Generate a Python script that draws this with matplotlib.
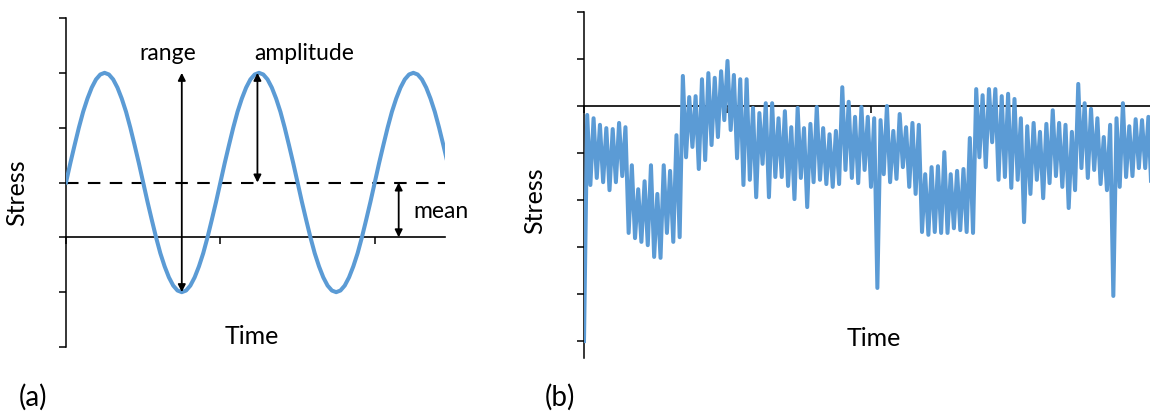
import matplotlib
matplotlib.use("Agg")
import matplotlib.pyplot as plt
import numpy as np

plt.rcParams['font.family'] = ['Lato', 'DejaVu Sans']

# (a) constant amplitude sine, sampled every 1/36 of a cycle
stress_a = [1.00, 1.35, 1.68, 2.00, 2.29, 2.53, 2.73, 2.88, 2.97, 3.00, 2.97, 2.88,
            2.73, 2.53, 2.29, 2.00, 1.68, 1.35, 1.00, 0.65, 0.32, 0.00, -0.29, -0.53,
            -0.73, -0.88, -0.97, -1.00, -0.97, -0.88, -0.73, -0.53, -0.29, 0.00, 0.32, 0.65,
            1.00, 1.35, 1.68, 2.00, 2.29, 2.53, 2.73, 2.88, 2.97, 3.00, 2.97, 2.88,
            2.73, 2.53, 2.29, 2.00, 1.68, 1.35, 1.00, 0.65, 0.32, 0.00, -0.29, -0.53,
            -0.73, -0.88, -0.97, -1.00, -0.97, -0.88, -0.73, -0.53, -0.29, 0.00, 0.32, 0.65,
            1.00, 1.35, 1.68, 2.00, 2.29, 2.53, 2.73, 2.88, 2.97, 3.00, 2.97, 2.88,
            2.73, 2.53, 2.29, 2.00, 1.68, 1.35]
samples_per_cycle = 36
mean_a = 1.0
peak_a = 3.0
trough_a = -1.0

# (b) variable amplitude history, peaks and troughs in order
stress_b = [-5.0,
            -0.19, -1.68, -0.26, -1.53, -0.40, -1.62, -0.47, -1.79, -0.49, -1.62, -0.36, -1.49, -0.45,
            -2.70, -1.26, -2.81, -1.77, -2.89, -1.60, -2.96, -1.26, -3.21, -1.87, -3.23, -1.26,
            -2.70, -1.38, -2.89, -0.62, -2.79, 0.64,
            -1.09, 0.19, -0.87, 0.21, -1.34, 0.57, -1.15, 0.70, -0.83, 0.60, -0.66, 0.74, -0.30,
            0.96, -0.51, 0.66, -1.11, 0.57, -1.68, 0.57, -1.57, -0.04, -1.94, -0.15, -1.23, 0.06,
            -1.94, 0.06, -1.51,
            -0.26, -1.51, -0.11, -1.70, -0.45, -1.98, -0.04, -1.53, -0.47, -2.15, -0.38, -1.62,
            -0.02, -1.57, -0.47, -1.66, -0.60, -1.72, -0.53, -1.66, 0.40, -1.36, 0.09, -1.53,
            -0.23, -1.64, -0.02, -1.36, -0.23, -1.72,
            -0.26, -3.87, -0.30, -1.45, 0.00, -1.62, -0.53, -1.55, -0.17, -1.30, -0.45, -1.72,
            -0.36, -1.87, -0.40,
            -2.68, -1.45, -2.74, -1.30, -2.68, -1.28, -2.70, -0.98, -2.70, -1.45, -2.60, -1.38,
            -2.64, -1.34, -2.68,
            -0.68, -2.70, 0.36, -1.09, 0.23, -1.30, 0.36, -0.77, 0.36, -1.57, 0.21, -1.51, 0.26,
            -1.74, 0.15, -1.57, -0.26, -2.47, -0.43, -1.87, -0.36, -1.57, -0.55, -1.96, -0.38,
            -1.64, -0.09, -1.49, -0.36, -1.72,
            -0.40, -2.17, -0.55, -1.79, 0.47, -1.32, 0.06, -1.53, -0.06, -1.36, -0.26, -1.66,
            -0.66, -1.79, -0.40, -4.04, -0.26, -1.72, 0.06, -1.51, -0.43, -1.49, -0.28, -1.32,
            -0.30, -1.32, -0.23, -1.90]

blue = '#5B9BD5'
W, H = 1150, 417

fig = plt.figure(figsize=(W / 100, H / 100), dpi=100)


def setup_axes(ax, xticks, yticks):
    for s in ['top', 'right']:
        ax.spines[s].set_visible(False)
    ax.spines['left'].set_position(('data', 0))
    ax.spines['bottom'].set_position(('data', 0))
    ax.spines['left'].set_linewidth(1.1)
    ax.spines['bottom'].set_linewidth(1.2)
    ax.set_xticks(xticks)
    ax.set_yticks(yticks)
    ax.tick_params(direction='out', length=5, width=1.1, labelleft=False, labelbottom=False)
    ax.patch.set_visible(False)


# ---- (a)
ax1 = fig.add_axes([66 / W, (H - 347) / H, 379 / W, 329 / H])
t_a = np.arange(len(stress_a)) / samples_per_cycle
ax1.plot(t_a, stress_a, color=blue, lw=2.9, zorder=3, solid_joinstyle='round')
ax1.axhline(mean_a, color='black', lw=1.5, linestyle=(0, (6, 4.5)), zorder=2)
ax1.set_xlim(0, 2.455)
ax1.set_ylim(-2, 4)
setup_axes(ax1, [0, 1, 2], np.arange(-2, 5))

arrow = dict(arrowstyle='<|-|>', color='black', lw=1.3, mutation_scale=11, shrinkA=0, shrinkB=0)
ax1.annotate('', xy=(0.75, trough_a), xytext=(0.75, peak_a), arrowprops=arrow, zorder=4)
ax1.annotate('', xy=(1.24, mean_a), xytext=(1.24, peak_a), arrowprops=arrow, zorder=4)
ax1.annotate('', xy=(2.155, 0), xytext=(2.155, mean_a), arrowprops=arrow, zorder=4)
ax1.text(0.66, 3.36, 'range', fontsize=16.5, ha='center', va='center')
ax1.text(1.545, 3.35, 'amplitude', fontsize=16.5, ha='center', va='center')
ax1.text(2.25, 0.48, 'mean', fontsize=16.5, ha='left', va='center', clip_on=False)

fig.text(17 / W, 1 - 193 / H, 'Stress', fontsize=18, rotation=90, ha='center', va='center')
fig.text(252 / W, 1 - 337 / H, 'Time', fontsize=18, ha='center', va='center')
fig.text(33 / W, 1 - 397 / H, '(a)', fontsize=20, ha='center', va='center')

# ---- (b)
ax2 = fig.add_axes([584 / W, (H - 358) / H, 566 / W, 346 / H])
t_b = np.arange(len(stress_b))
ax2.plot(t_b, stress_b, color=blue, lw=2.9, zorder=3, solid_joinstyle='round')
ax2.set_xlim(0, 177.5)
ax2.set_ylim(-5.36, 2)
setup_axes(ax2, [0, 45, 90, 135], np.arange(-5, 3))

fig.text(535 / W, 1 - 201 / H, 'Stress', fontsize=18, rotation=90, ha='center', va='center')
fig.text(874 / W, 1 - 338 / H, 'Time', fontsize=18, ha='center', va='center')
fig.text(560 / W, 1 - 397 / H, '(b)', fontsize=20, ha='center', va='center')

plt.savefig("out.png", dpi=100)
